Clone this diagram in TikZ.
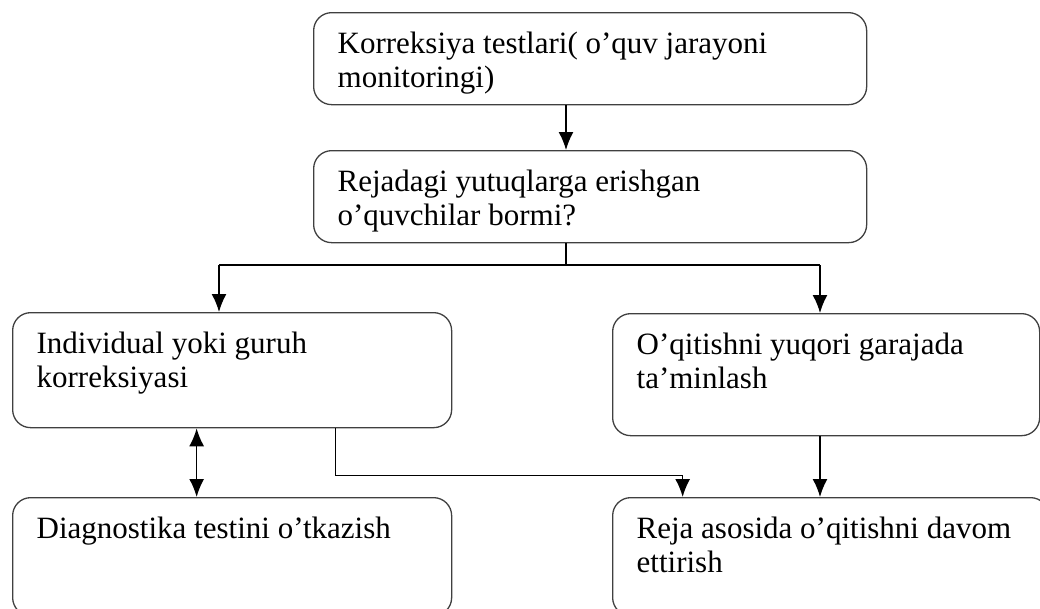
\documentclass[tikz,border=0pt]{standalone}
\usepackage{fontspec}
\setmainfont{Liberation Serif}
\usetikzlibrary{arrows.meta,positioning}
\newcommand{\boxtext}[3]{\parbox[c][#2][t]{#1}{\raggedright\rule{0pt}{41pt}#3}}

\begin{document}
\begin{tikzpicture}[x=1pt,y=-1pt]
      \tikzstyle{box}=[draw=black!75,line width=1.3pt,rounded corners=18pt,anchor=north west,inner xsep=24pt,inner ysep=0pt,font=\fontsize{31}{34}\selectfont]
      \tikzstyle{link}=[draw=black,line width=1.6pt,>={Latex[length=18pt,width=15pt]}]
      \useasboundingbox (0,0) rectangle (1040,608);

      \node[box] (korr) at (313,12) {\boxtext{505pt}{92pt}{Korreksiya testlari( o’quv jarayoni\\monitoringi)}};
      \node[box] (savol) at (313,150) {\boxtext{505pt}{92pt}{Rejadagi yutuqlarga erishgan\\o’quvchilar bormi?}};
      \node[box] (indiv) at (12,312) {\boxtext{391pt}{115pt}{Individual yoki guruh\\korreksiyasi}};
      \node[box] (yuqori) at (612,313) {\boxtext{379pt}{122pt}{O’qitishni yuqori garajada\\ta’minlash}};
      \node[box] (diag) at (12,497) {\boxtext{391pt}{118pt}{Diagnostika testini o’tkazish}};
      \node[box] (davom) at (612,497) {\boxtext{388pt}{118pt}{Reja asosida o’qitishni davom\\ettirish}};

      \coordinate (split) at (566,265);
      \coordinate (chapga) at (219,265);
      \coordinate (ongga) at (820,265);

      \draw[link,->] (korr.south -| split) -- (savol.north -| split);
      \draw[link] (savol.south -| split) -- (split);
      \draw[link] (chapga) -- (ongga);
      \draw[link,->] (chapga) -- (indiv.north -| chapga);
      \draw[link,->] (ongga) -- (yuqori.north -| ongga);
      \draw[link,<->] ([xshift=-35.5pt]indiv.south) -- ([xshift=-35.5pt]indiv.south |- diag.north);
      \draw[link,->] ([xshift=103.5pt]indiv.south) -- ++(0,47) -| ([xshift=-148pt]davom.north);
      \draw[link,->] (yuqori.south -| ongga) -- (davom.north -| ongga);
    \end{tikzpicture}
\end{document}
